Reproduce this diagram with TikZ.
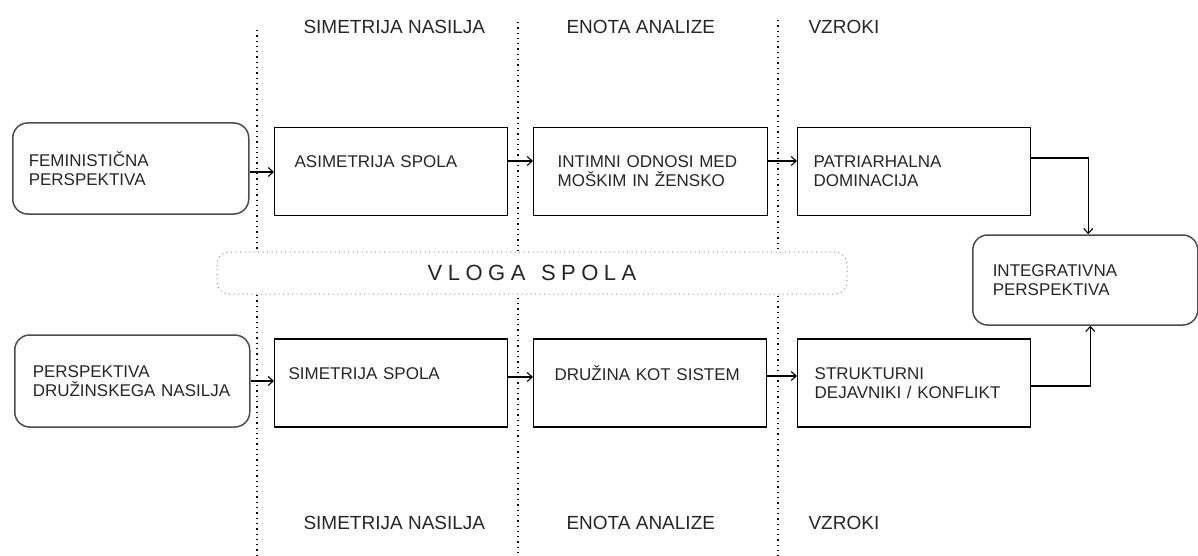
\documentclass[tikz,border=0pt]{standalone}
\usepackage{fontspec}
\setmainfont{Liberation Sans}
\newfontfamily\bandfont[LetterSpace=25]{Liberation Sans}
\usetikzlibrary{arrows.meta}
\begin{document}
\begin{tikzpicture}[
    x=1pt, y=-1pt,
    every node/.style = {font=\fontsize{17}{19}\selectfont, text=black!85},
    box/.style = {draw=black, line width=1.3pt, anchor=west, align=left,
                  minimum height=88, inner xsep=18, text width=197},
    rbox/.style = {draw=black!70, line width=1.5pt, rounded corners=15, anchor=west, align=left,
                   inner xsep=18},
    head/.style = {font=\fontsize{19}{22}\selectfont, anchor=west},
    sep/.style = {line width=1.3pt, dash pattern=on 1.3pt off 4pt},
    arr/.style = {line width=1.1pt, -{Straight Barb[length=5pt,width=9pt]}}
  ]
  \useasboundingbox (0,0) rectangle (1198,556);
  % column separators
  \foreach \x/\y in {257/30, 518/22, 778/20}
    \draw[sep] (\x,\y) -- (\x,556);
  % column headers, top and bottom
  \foreach \y/\pos in {27/t, 523/b} {
    \node[head] (h1\pos) at (300,\y) {SIMETRIJA NASILJA};
    \node[head] (h2\pos) at (563,\y) {ENOTA ANALIZE};
    \node[head] (h3\pos) at (805,\y) {VZROKI};
  }
  % middle band
  \node[draw=black!45, line width=1pt, dash pattern=on 1pt off 3.5pt, fill=white,
        rounded corners=12, minimum width=630, minimum height=42,
        font=\bandfont\fontsize{22}{24}\selectfont] (vloga) at (532,273)
    {VLOGA\hspace{4pt} SPOLA};
  % upper row
  \node[rbox, minimum height=91, inner xsep=16, text width=204] (fem) at (12,168.5) {FEMINISTIČNA\\PERSPEKTIVA};
  \node[box, inner xsep=20, text width=193] (asim) at (274,171.5) {ASIMETRIJA SPOLA\\\mbox{}};
  \node[box, inner xsep=24, text width=186] (intim) at (533,171.5) {INTIMNI ODNOSI MED\\MOŠKIM IN ŽENSKO};
  \node[box, inner xsep=16, text width=201] (patr) at (797,171.5) {PATRIARHALNA\\DOMINACIJA};
  % lower row
  \node[rbox, minimum height=92, text width=199] (persp) at (14,381) {PERSPEKTIVA\\DRUŽINSKEGA NASILJA};
  \node[box, inner xsep=14, text width=205] (sim) at (274,383) {SIMETRIJA SPOLA\\\mbox{}};
  \node[box, inner xsep=21, text width=191] (druz) at (533,383) {DRUŽINA KOT SISTEM\\\mbox{}};
  \node[box, inner xsep=17, text width=199] (strukt) at (797,383) {STRUKTURNI\\DEJAVNIKI / KONFLIKT};
  % result
  \node[rbox, minimum height=90, inner xsep=20, text width=185] (integ) at (972,280) {INTEGRATIVNA\\PERSPEKTIVA};
  % connectors
  \coordinate (f1) at ([yshift=-3.5]fem.east);
  \draw[arr] (f1) -- (f1 -| asim.west);
  \coordinate (a1) at ([yshift=10.5]asim.east);
  \draw[arr] (a1) -- (a1 -| intim.west);
  \coordinate (i1) at ([yshift=10.5]intim.east);
  \draw[arr] (i1) -- (i1 -| patr.west);
  \coordinate (p1) at ([yshift=13.5]patr.east);
  \draw[arr] (p1) -| ([xshift=3]integ.north);
  \coordinate (q1) at (persp.east);
  \draw[arr] (q1) -- (q1 -| sim.west);
  \coordinate (s1) at ([yshift=6]sim.east);
  \draw[arr] (s1) -- (s1 -| druz.west);
  \coordinate (d1) at ([yshift=7]druz.east);
  \draw[arr] (d1) -- (d1 -| strukt.west);
  \coordinate (t1) at ([yshift=-3]strukt.east);
  \draw[arr] (t1) -| ([xshift=5]integ.south);
\end{tikzpicture}
\end{document}
